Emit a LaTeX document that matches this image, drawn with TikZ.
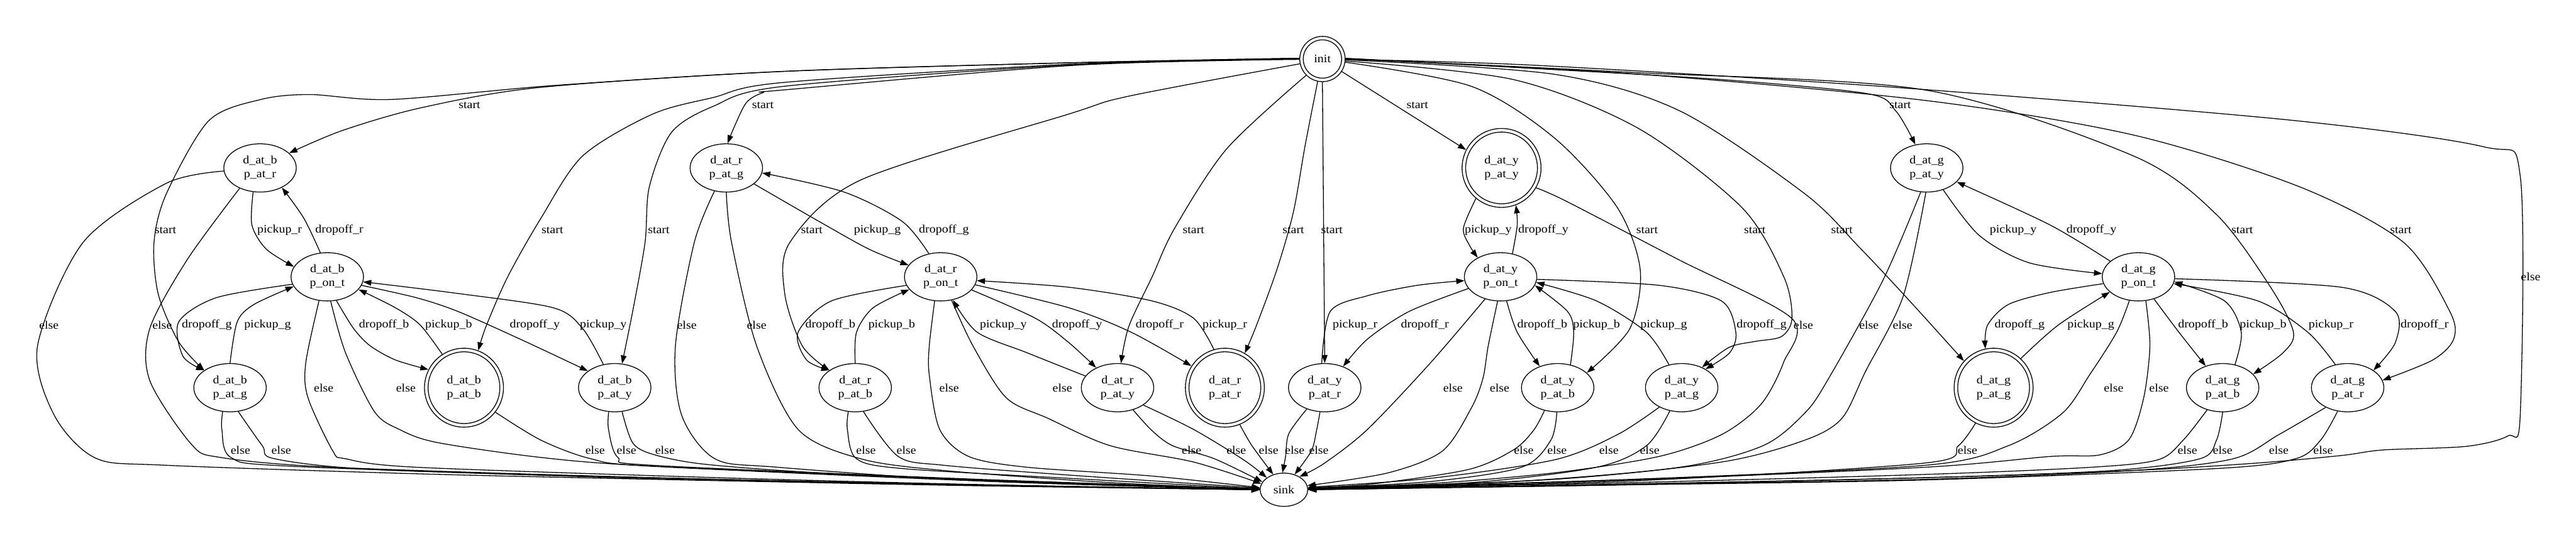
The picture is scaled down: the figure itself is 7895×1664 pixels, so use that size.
\documentclass[tikz,border=0pt]{standalone}
\usepackage{fontspec}
\setmainfont{Liberation Serif}[FakeStretch=1.1]
\usetikzlibrary{shapes.geometric,arrows.meta}
\newcommand{\fs}{\fontsize{14pt}{16.8pt}\selectfont}
\begin{document}
\begin{tikzpicture}[x=0.4pt,y=-0.4pt,
 st/.style={ellipse,draw,line width=1pt,minimum width=88.8pt,minimum height=59.2pt,inner sep=0pt,align=center,font=\fs},
 acc/.style={circle,draw,line width=1pt,minimum size=88pt,inner sep=0pt,outer sep=4.9pt,align=center,font=\fs},
 ini/.style={circle,draw,line width=1pt,minimum size=47pt,inner sep=0pt,outer sep=4.8pt,font=\fs},
 snk/.style={ellipse,draw,line width=1pt,minimum width=58.4pt,minimum height=40.8pt,inner sep=0pt,font=\fs},
 ring/.style={draw,line width=1pt},
 e/.style={draw,line width=1pt,-{Triangle[length=10pt,width=7pt]}},
 lbl/.style={font=\fs,inner sep=0pt},
]
\useasboundingbox[fill=white] (0,0) rectangle (7895,1664);
% nodes
\node[ini] (init) at (4053,181) {init};
\draw[ring] (init.center) circle[radius=27.8pt];
\node[snk] (sink) at (3935,1502) {sink};

\node[st] (B_R) at (797,515) {d\_at\_b\\p\_at\_r};
\node[st] (B_T) at (1003,849) {d\_at\_b\\p\_on\_t};
\node[st] (B_G) at (705,1189) {d\_at\_b\\p\_at\_g};
\node[acc] (B_B) at (1422,1189) {d\_at\_b\\p\_at\_b};
\node[st] (B_Y) at (1884,1189) {d\_at\_b\\p\_at\_y};

\node[st] (R_G) at (2226,515) {d\_at\_r\\p\_at\_g};
\node[st] (R_T) at (2883,849) {d\_at\_r\\p\_on\_t};
\node[st] (R_B) at (2621,1189) {d\_at\_r\\p\_at\_b};
\node[st] (R_Y) at (3425,1189) {d\_at\_r\\p\_at\_y};
\node[acc] (R_R) at (3754,1189) {d\_at\_r\\p\_at\_r};

\node[acc] (Y_Y) at (4602,515) {d\_at\_y\\p\_at\_y};
\node[st] (Y_T) at (4599,849) {d\_at\_y\\p\_on\_t};
\node[st] (Y_R) at (4060,1189) {d\_at\_y\\p\_at\_r};
\node[st] (Y_B) at (4774,1189) {d\_at\_y\\p\_at\_b};
\node[st] (Y_G) at (5154,1189) {d\_at\_y\\p\_at\_g};

\node[st] (G_Y) at (5905,515) {d\_at\_g\\p\_at\_y};
\node[st] (G_T) at (6554,849) {d\_at\_g\\p\_on\_t};
\node[acc] (G_G) at (6110,1189) {d\_at\_g\\p\_at\_g};
\node[st] (G_B) at (6812,1189) {d\_at\_g\\p\_at\_b};
\node[st] (G_R) at (7195,1189) {d\_at\_g\\p\_at\_r};

\foreach \n in {B_B,R_R,Y_Y,G_G} \draw[ring] (\n.center) circle[radius=48.4pt];

% start edges
\draw[e] plot[smooth] coordinates {(init.178) (3300,192) (2400,219) (1656,268) (1293,330) (1050,400) (B_R.27)};
\draw[e] plot[smooth] coordinates {(init.178) (3300,192) (2400,219) (1700,262) (1200,305) (950,290) (800,305) (640,370) (510,594) (472,743) (485,902) (548,1049) (B_G.146)};
\draw[e] plot[smooth] coordinates {(init.179) (3300,196) (2400,253) (2186,299) (2000,350) (1786,478) (1658,669) (1556,849) (1490,1000) (B_B.69)};
\draw[e] plot[smooth] coordinates {(init.180) (3300,198) (2400,265) (2186,326) (2058,406) (1990,573) (1977,743) (1940,950) (B_Y.73)};
\draw[e] plot[smooth] coordinates {(init.181) (3300,200) (2400,276) (2339,284) (2288,314) (2250,390) (R_G.87)};
\draw[e] plot[smooth] coordinates {(init.192) (3459,295) (3275,350) (2638,552) (2421,743) (2405,900) (2459,1061) (R_B.146)};
\draw[e] plot[smooth] coordinates {(init.225) (3760,456) (3600,700) (3531,849) (3460,1000) (R_Y.82)};
\draw[e] plot[smooth] coordinates {(init.258) (4000,446) (3964,650) (3913,828) (3850,1000) (R_R.60)};
\draw[e] (init.south) -- (Y_R.north);
\draw[e] (init.327) -- (Y_Y.153);
\draw[e] plot[smooth] coordinates {(init.352) (4510,265) (4765,424) (4957,637) (5027,828) (4995,1008) (Y_B.27)};
\draw[e] plot[smooth] coordinates {(init.355) (4638,244) (5020,393) (5339,637) (5467,849) (5492,976) (5460,1032) (5380,1047) (5300,1065) (Y_G.45)};
\draw[e] plot[smooth] coordinates {(init.358) (4765,228) (5148,340) (5531,594) (5700,760) (5850,920) (G_G.138)};
\draw[e] plot[smooth] coordinates {(init.2) (4700,210) (5276,244) (5722,287) (5810,340) (G_Y.116)};
\draw[e] plot[smooth] coordinates {(init.1) (5000,222) (5900,276) (6538,478) (6793,658) (6959,881) (7029,1019) (6997,1082) (G_B.24)};
\draw[e] plot[smooth] coordinates {(init.0) (5000,226) (5900,308) (6538,414) (7048,573) (7366,743) (7508,955) (7520,1040) (7456,1104) (G_R.12)};
\draw[e] plot[smooth] coordinates {(init.359) (4700,200) (5795,267) (7005,367) (7611,450) (7724,540) (7724,1273) (7686,1337) (7558,1369) (7303,1380) (7176,1397) (6920,1420) (6538,1443) (5900,1465) (4800,1490) (sink.2)};

% B group
\draw[e] plot[smooth] coordinates {(B_R.254) (772,690) (816,764) (B_T.163)};
\draw[e] plot[smooth] coordinates {(B_T.106) (931,669) (B_R.318)};
\draw[e] plot[smooth] coordinates {(B_T.192) (663,913) (548,987) (561,1093) (B_G.146)};
\draw[e] plot[smooth] coordinates {(B_G.90) (727,987) (778,934) (B_T.196)};
\draw[e] plot[smooth] coordinates {(B_T.291) (1084,1008) (1135,1061) (1212,1104) (B_B.153)};
\draw[e] plot[smooth] coordinates {(B_B.123) (1288,997) (1212,944) (B_T.338)};
\draw[e] plot[smooth] coordinates {(B_T.346) (1276,913) (1403,955) (1594,1040) (B_Y.148)};
\draw[e] plot[smooth] coordinates {(B_Y.116) (1786,1008) (1696,944) (1403,900) (B_T.352)};
\draw[e] plot[smooth] coordinates {(B_R.185) (510,562) (255,743) (115,1061) (166,1273) (293,1405) (510,1427) (1276,1453) (2000,1470) (3000,1490) (sink.180)};
\draw[e] plot[smooth] coordinates {(B_R.225) (574,796) (459,1008) (459,1167) (587,1363) (676,1403) (1020,1433) (2000,1465) (3000,1488) (sink.180)};
\draw[e] plot[smooth] coordinates {(B_G.253) (680,1317) (708,1403) (893,1430) (2000,1468) (3000,1488) (sink.180)};
\draw[e] plot[smooth] coordinates {(B_G.289) (804,1367) (842,1407) (1148,1440) (2000,1465) (3000,1487) (sink.180)};
\draw[e] plot[smooth] coordinates {(B_T.251) (937,1114) (944,1220) (1020,1383) (1059,1407) (1276,1433) (2200,1465) (3000,1486) (sink.180)};
\draw[e] plot[smooth] coordinates {(B_T.278) (1059,1082) (1148,1263) (1224,1317) (1339,1357) (1658,1403) (2000,1430) (3000,1475) (sink.178)};
\draw[e] plot[smooth] coordinates {(B_B.322) (1658,1350) (1811,1407) (2000,1430) (3000,1472) (sink.178)};
\draw[e] plot[smooth] coordinates {(B_Y.256) (1865,1317) (1894,1403) (2000,1427) (3000,1470) (sink.178)};
\draw[e] plot[smooth] coordinates {(B_Y.287) (1939,1358) (2000,1393) (2153,1423) (2510,1450) (3200,1480) (sink.178)};

% R group
\draw[e] plot[smooth] coordinates {(R_G.330) (2510,679) (2663,764) (R_T.160)};
\draw[e] plot[smooth] coordinates {(R_T.117) (2765,679) (2587,589) (R_G.352)};
\draw[e] plot[smooth] coordinates {(R_T.194) (2548,923) (2446,1019) (2472,1104) (R_B.146)};
\draw[e] plot[smooth] coordinates {(R_B.90) (2625,1019) (2676,944) (R_T.202)};
\draw[e] plot[smooth] coordinates {(R_Y.160) (3148,1082) (2995,1019) (R_T.298)};
\draw[e] plot[smooth] coordinates {(R_T.337) (3173,976) (3276,1051) (R_Y.137)};
\draw[e] plot[smooth] coordinates {(R_T.347) (3276,944) (3467,1019) (R_R.147)};
\draw[e] plot[smooth] coordinates {(R_R.106) (3658,976) (3531,923) (3276,881) (R_T.354)};
\draw[e] plot[smooth] coordinates {(R_G.243) (2128,743) (2070,1061) (2089,1273) (2191,1407) (2383,1433) (3000,1475) (sink.180)};
\draw[e] plot[smooth] coordinates {(R_G.270) (2242,743) (2319,1061) (2446,1317) (2638,1407) (2893,1443) (3400,1480) (sink.179)};
\draw[e] plot[smooth] coordinates {(R_B.254) (2597,1317) (2625,1407) (2765,1437) (3276,1467) (sink.178)};
\draw[e] plot[smooth] coordinates {(R_B.289) (2753,1400) (2893,1427) (3276,1457) (sink.176)};
\draw[e] plot[smooth] coordinates {(R_T.256) (2848,1061) (2848,1150) (2880,1317) (2969,1400) (3148,1433) (3531,1460) (sink.175)};
\draw[e] plot[smooth] coordinates {(R_T.295) (2982,1061) (3084,1220) (3212,1283) (3403,1367) (3658,1417) (sink.165)};
\draw[e] plot[smooth] coordinates {(R_Y.305) (3530,1320) (3594,1367) (3722,1407) (sink.160)};
\draw[e] plot[smooth] coordinates {(R_Y.326) (3658,1317) (3811,1410) (sink.145)};
\draw[e] plot[smooth] coordinates {(R_R.292) (3837,1367) (sink.125)};

% Y group
\draw[e] plot[smooth] coordinates {(Y_Y.230) (4485,700) (4504,753) (Y_T.140)};
\draw[e] plot[smooth] coordinates {(Y_T.63) (4650,690) (Y_Y.291)};
\draw[e] plot[smooth] coordinates {(Y_R.97) (4077,955) (4191,907) (4344,875) (Y_T.186)};
\draw[e] plot[smooth] coordinates {(Y_T.200) (4319,955) (4191,1040) (Y_R.49)};
\draw[e] plot[smooth] coordinates {(Y_T.284) (4650,1019) (Y_B.130)};
\draw[e] plot[smooth] coordinates {(Y_B.61) (4823,1019) (4804,955) (Y_T.346)};
\draw[e] plot[smooth] coordinates {(Y_G.119) (5046,1019) (4893,923) (Y_T.351)};
\draw[e] plot[smooth] coordinates {(Y_T.356) (5084,875) (5276,923) (5320,1019) (5301,1082) (Y_G.38)};
\draw[e] plot[smooth] coordinates {(Y_Y.330) (4800,617) (5144,796) (5492,977) (5466,1112) (5397,1240) (5276,1333) (5084,1400) (4765,1450) (4383,1483) (sink.4)};
\draw[e] plot[smooth] coordinates {(Y_R.259) (4035,1320) (4019,1383) (sink.55)};
\draw[e] plot[smooth] coordinates {(Y_R.230) (3950,1330) (3940,1400) (sink.95)};
\draw[e] plot[smooth] coordinates {(Y_T.235) (4383,1114) (4191,1317) (4060,1420) (sink.40)};
\draw[e] plot[smooth] coordinates {(Y_T.263) (4561,1061) (4545,1160) (4510,1250) (4421,1383) (4255,1450) (sink.10)};
\draw[e] plot[smooth] coordinates {(Y_B.240) (4700,1320) (4638,1380) (4500,1440) (4200,1485) (sink.5)};
\draw[e] plot[smooth] coordinates {(Y_B.268) (4753,1350) (4663,1433) (4383,1477) (sink.3)};
\draw[e] plot[smooth] coordinates {(Y_G.221) (4957,1333) (4765,1410) (4383,1467) (sink.6)};
\draw[e] plot[smooth] coordinates {(Y_G.243) (5046,1367) (4893,1433) (4510,1480) (sink.3)};

% G group
\draw[e] plot[smooth] coordinates {(G_Y.307) (6066,722) (6219,806) (G_T.175)};
\draw[e] plot[smooth] coordinates {(G_T.151) (6283,690) (G_Y.335)};
\draw[e] plot[smooth] coordinates {(G_T.191) (6283,897) (6155,934) (6091,998) (G_G.102)};
\draw[e] plot[smooth] coordinates {(G_G.47) (6308,997) (G_T.208)};
\draw[e] plot[smooth] coordinates {(G_T.305) (6678,1019) (G_B.128)};
\draw[e] plot[smooth] coordinates {(G_B.62) (6869,1019) (6818,923) (G_T.352)};
\draw[e] plot[smooth] coordinates {(G_R.118) (7073,1019) (6920,923) (G_T.349)};
\draw[e] plot[smooth] coordinates {(G_T.357) (7176,881) (7341,955) (7341,1051) (G_R.34)};
\draw[e] plot[smooth] coordinates {(G_G.243) (6002,1367) (5900,1420) (5000,1475) (sink.2)};
\draw[e] plot[smooth] coordinates {(G_T.249) (6487,1019) (6404,1150) (6321,1267) (6155,1367) (5900,1427) (5000,1470) (sink.2)};
\draw[e] plot[smooth] coordinates {(G_T.287) (6589,1061) (6570,1220) (6525,1348) (6436,1395) (6283,1400) (5900,1433) (5000,1472) (sink.1)};
\draw[e] plot[smooth] coordinates {(G_B.235) (6691,1350) (6614,1410) (6410,1433) (5900,1455) (5000,1480) (sink.1)};
\draw[e] plot[smooth] coordinates {(G_B.270) (6793,1350) (6742,1407) (6474,1443) (5900,1465) (5000,1484) (sink.0)};
\draw[e] plot[smooth] coordinates {(G_R.222) (6984,1333) (6844,1407) (6538,1443) (5900,1470) (5000,1486) (sink.0)};
\draw[e] plot[smooth] coordinates {(G_R.247) (7112,1350) (7035,1407) (6793,1437) (5900,1472) (5000,1487) (sink.0)};
\draw[e] plot[smooth] coordinates {(G_Y.256) (5772,857) (5603,1163) (5531,1267) (5403,1367) (5148,1433) (4638,1477) (sink.3)};
\draw[e] plot[smooth] coordinates {(G_Y.268) (5833,908) (5718,1138) (5645,1283) (5531,1350) (5276,1417) (4765,1470) (sink.2)};

% labels: start / init else
\node[lbl] (l1) at (1439,322) {start};
\node[lbl] (l2) at (507,706) {start};
\node[lbl] (l3) at (1693,706) {start};
\node[lbl] (l4) at (2019,706) {start};
\node[lbl] (l5) at (2338,322) {start};
\node[lbl] (l6) at (2488,706) {start};
\node[lbl] (l7) at (3658,706) {start};
\node[lbl] (l8) at (3964,706) {start};
\node[lbl] (l9) at (4082,706) {start};
\node[lbl] (l10) at (4344,322) {start};
\node[lbl] (l11) at (5048,706) {start};
\node[lbl] (l12) at (5378,706) {start};
\node[lbl] (l13) at (5645,706) {start};
\node[lbl] (l14) at (5824,322) {start};
\node[lbl] (l15) at (6872,706) {start};
\node[lbl] (l16) at (7358,706) {start};
\node[lbl] (l17) at (7756,849) {else};
% B labels
\node[lbl] (b1) at (857,706) {pickup\_r};
\node[lbl] (b2) at (1040,706) {dropoff\_r};
\node[lbl] (b3) at (634,997) {dropoff\_g};
\node[lbl] (b4) at (820,997) {pickup\_g};
\node[lbl] (b5) at (1177,997) {dropoff\_b};
\node[lbl] (b6) at (1375,997) {pickup\_b};
\node[lbl] (b7) at (1639,997) {dropoff\_y};
\node[lbl] (b8) at (1849,997) {pickup\_y};
\node[lbl] (b9) at (150,997) {else};
\node[lbl] (b10) at (497,997) {else};
\node[lbl] (b11) at (737,1380) {else};
\node[lbl] (b12) at (862,1380) {else};
\node[lbl] (b13) at (992,1189) {else};
\node[lbl] (b14) at (1244,1189) {else};
\node[lbl] (b15) at (1824,1380) {else};
\node[lbl] (b16) at (1920,1380) {else};
\node[lbl] (b17) at (2038,1380) {else};
% R labels
\node[lbl] (r1) at (2689,706) {pickup\_g};
\node[lbl] (r2) at (2893,706) {dropoff\_g};
\node[lbl] (r3) at (2545,997) {dropoff\_b};
\node[lbl] (r4) at (2733,997) {pickup\_b};
\node[lbl] (r5) at (3075,997) {pickup\_y};
\node[lbl] (r6) at (3301,997) {dropoff\_y};
\node[lbl] (r7) at (3554,997) {dropoff\_r};
\node[lbl] (r8) at (3754,997) {pickup\_r};
\node[lbl] (r9) at (2105,997) {else};
\node[lbl] (r10) at (2319,997) {else};
\node[lbl] (r11) at (2654,1380) {else};
\node[lbl] (r12) at (2778,1380) {else};
\node[lbl] (r13) at (2909,1189) {else};
\node[lbl] (r14) at (3256,1189) {else};
\node[lbl] (r15) at (3652,1380) {else};
\node[lbl] (r16) at (3789,1380) {else};
\node[lbl] (r17) at (3888,1380) {else};
% Y labels
\node[lbl] (y1) at (4561,706) {pickup\_y};
\node[lbl] (y2) at (4730,706) {dropoff\_y};
\node[lbl] (y3) at (4153,997) {pickup\_r};
\node[lbl] (y4) at (4367,997) {dropoff\_r};
\node[lbl] (y5) at (4727,997) {dropoff\_b};
\node[lbl] (y6) at (4893,997) {pickup\_b};
\node[lbl] (y7) at (5099,997) {pickup\_g};
\node[lbl] (y8) at (5399,997) {dropoff\_g};
\node[lbl] (y9) at (5527,997) {else};
\node[lbl] (y10) at (4042,1380) {else};
\node[lbl] (y11) at (3968,1380) {else};
\node[lbl] (y12) at (4453,1189) {else};
\node[lbl] (y13) at (4596,1189) {else};
\node[lbl] (y14) at (4670,1380) {else};
\node[lbl] (y15) at (4772,1380) {else};
\node[lbl] (y16) at (4931,1380) {else};
\node[lbl] (y17) at (5056,1380) {else};
% G labels
\node[lbl] (g1) at (6170,706) {pickup\_y};
\node[lbl] (g2) at (6410,706) {dropoff\_y};
\node[lbl] (g3) at (6190,997) {dropoff\_g};
\node[lbl] (g4) at (6408,997) {pickup\_g};
\node[lbl] (g5) at (6752,997) {dropoff\_b};
\node[lbl] (g6) at (6936,997) {pickup\_b};
\node[lbl] (g7) at (7144,997) {pickup\_r};
\node[lbl] (g8) at (7431,997) {dropoff\_r};
\node[lbl] (g9) at (6030,1380) {else};
\node[lbl] (g10) at (6478,1189) {else};
\node[lbl] (g11) at (6617,1189) {else};
\node[lbl] (g12) at (6704,1380) {else};
\node[lbl] (g13) at (6812,1380) {else};
\node[lbl] (g14) at (6984,1380) {else};
\node[lbl] (g15) at (7120,1380) {else};
\node[lbl] (g16) at (5728,997) {else};
\node[lbl] (g17) at (5831,997) {else};
\end{tikzpicture}
\end{document}
